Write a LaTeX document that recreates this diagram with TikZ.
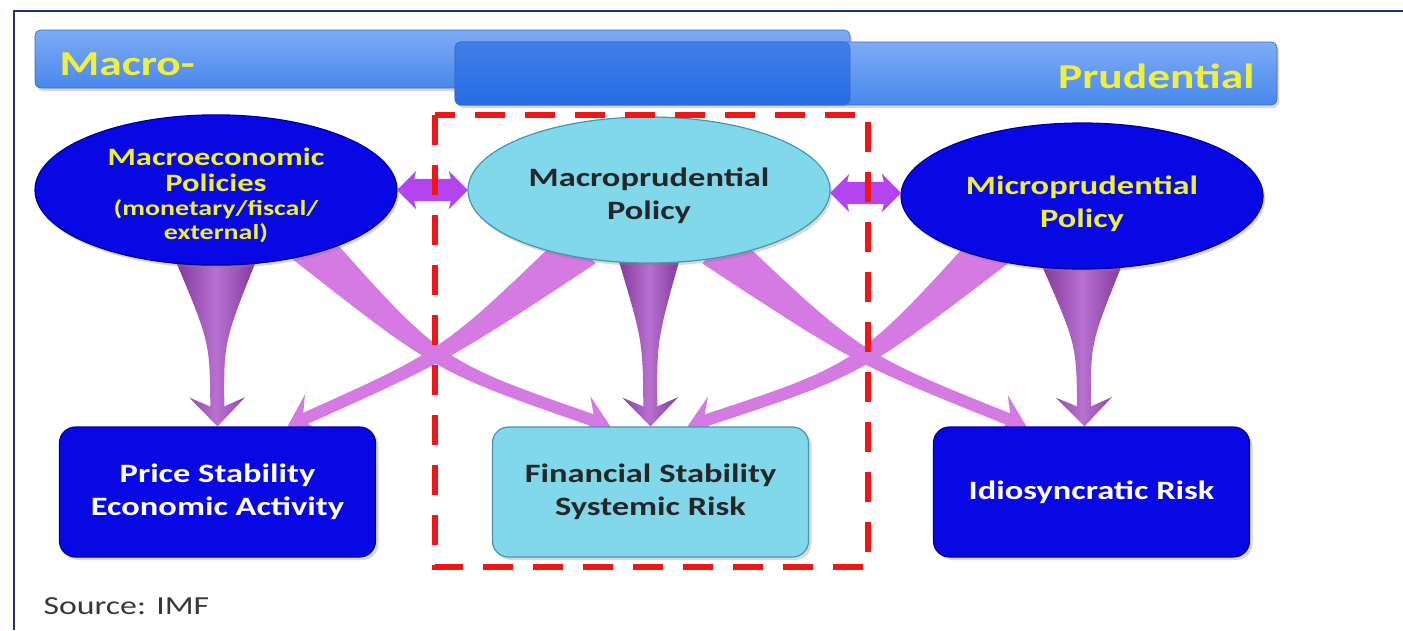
\documentclass[tikz,border=0pt]{standalone}
\usepackage{fontspec}
\setmainfont{Carlito}[FakeStretch=1.3]
\usetikzlibrary{calc,shapes.geometric,shapes.arrows,shadows}

\definecolor{barblue}{RGB}{72,136,236}
\definecolor{barlight}{RGB}{125,172,246}
\definecolor{bardark}{RGB}{38,108,228}
\definecolor{deepblue}{RGB}{8,8,228}
\definecolor{deepedge}{RGB}{0,0,150}
\definecolor{paleblue}{RGB}{128,216,234}
\definecolor{paleedge}{RGB}{70,150,175}
\definecolor{hiyellow}{RGB}{240,240,60}
\definecolor{darkviolet}{RGB}{160,66,192}
\definecolor{lightviolet}{RGB}{212,122,226}
\definecolor{linkviolet}{RGB}{180,68,240}
\definecolor{framered}{RGB}{240,22,22}
\definecolor{framenavy}{RGB}{32,52,112}

\pgfdeclarelayer{back}
\pgfsetlayers{back,main}

% tapered arrow: style, from, to, bend, top, neck, head
\newcommand{\funnel}[7]{%
  \coordinate (fM) at ($($(#2)!0.5!(#3)$)!#4!90:(#3)$);
  \coordinate (fN) at ($(#3)!20pt!(fM)$);
  \coordinate (fB) at ($(#3)!29pt!(fM)$);
  \path[#1] ($(#2)!#5!90:(fM)$) .. controls ($(fM)!#6!90:(#3)$) .. ($(fN)!#6!90:(#3)$)
    -- ($(fB)!#7!90:(#3)$) -- (#3) -- ($(fB)!#7!-90:(#3)$) -- ($(fN)!#6!-90:(#3)$)
    .. controls ($(fM)!#6!-90:(#3)$) .. ($(#2)!#5!-90:(fM)$) -- cycle;
}

\tikzset{
  bar/.style={rectangle, rounded corners=6pt, inner sep=0pt, draw=barblue!80!black, line width=0.6pt,
    top color=barlight, bottom color=barblue},
  bartext/.style={text=hiyellow, font=\fontsize{35}{40}\selectfont\bfseries},
  policy/.style={ellipse, minimum width=362pt, minimum height=146pt, inner sep=0pt, align=center,
    line width=1.2pt, drop shadow={opacity=0.3, shadow xshift=2pt, shadow yshift=-3pt},
    font=\fontsize{26.5}{33}\selectfont\bfseries},
  darkpolicy/.style={policy, fill=deepblue, draw=deepedge, text=hiyellow},
  palepolicy/.style={policy, fill=paleblue, draw=paleedge, text=black!85},
  target/.style={rectangle, rounded corners=16pt, minimum width=316pt, minimum height=130pt,
    inner sep=0pt, align=center, line width=1.2pt,
    drop shadow={opacity=0.3, shadow xshift=3pt, shadow yshift=-3pt},
    font=\fontsize{26.5}{33}\selectfont\bfseries},
  darktarget/.style={target, fill=deepblue, draw=deepedge, text=white},
  paletarget/.style={target, fill=paleblue, draw=paleedge, text=black!85},
  link/.style={double arrow, fill=linkviolet, minimum height=71pt, minimum width=38pt,
    double arrow head extend=8pt, double arrow head indent=2pt, inner xsep=0pt, inner ysep=11pt},
  darkfunnel/.style={left color=darkviolet!80!black, right color=darkviolet!80!black,
    middle color=darkviolet!75!white},
  lightfunnel/.style={fill=lightviolet},
  riskframe/.style={draw=framered, line width=6pt, dash pattern=on 30pt off 20pt},
}

\begin{document}
\begin{tikzpicture}[x=1pt, y=-1pt]
  \useasboundingbox (0,0) rectangle (1403,630);
  \draw[framenavy, line width=2pt] (1403,11) -- (14,11) -- (14,630);

  \node[bar, minimum width=815pt, minimum height=58pt,
    drop shadow={opacity=0.3, shadow xshift=2pt, shadow yshift=-3pt}] (macrobar) at (442.5,59) {};
  \node[bar, minimum width=822pt, minimum height=63pt,
    drop shadow={opacity=0.3, shadow xshift=2pt, shadow yshift=-3pt}] (prubar) at (866,73.5) {};
  \node[bar, top color=bardark!70!barlight, bottom color=bardark, minimum width=395pt,
    minimum height=63pt, anchor=west] (overlap) at (prubar.west) {};
  \node[bartext, anchor=base west] (macrolabel) at (56,75) {Macro-};
  \node[bartext, anchor=base east] (prulabel) at (1258,88) {Prudential};

  \node[darkpolicy, font=\fontsize{25}{26}\selectfont\bfseries] (macro) at (216,190)
    {\rule{0pt}{29pt}Macroeconomic\\Policies\\[-2pt]{\fontsize{21.5}{23}\selectfont (monetary/fiscal/}\\[-2pt]{\fontsize{21.5}{23}\selectfont external)}};
  \node[palepolicy] (mpp) at (649,190) {\rule{0pt}{30pt}Macroprudential\\Policy};
  \node[darkpolicy] (micro) at (1082,196) {\rule{0pt}{34pt}Microprudential\\Policy};

  \node[darktarget] (price) at (217.5,492) {Price Stability\\Economic Activity};
  \node[paletarget] (fin) at (650.5,492) {Financial Stability\\Systemic Risk};
  \node[darktarget] (idio) at (1091.5,492) {Idiosyncratic Risk};

  \coordinate (s1) at ($(macro.center)!0.88!(macro.-90)$);
  \coordinate (s2) at ($(mpp.center)!0.88!(mpp.-90)$);
  \coordinate (s3) at ($(micro.center)!0.88!(micro.-90)$);
  \coordinate (s4) at ($(macro.center)!0.85!(macro.-30)$);
  \coordinate (s5) at ($(mpp.center)!0.85!(mpp.-140)$);
  \coordinate (s6) at ($(mpp.center)!0.85!(mpp.-40)$);
  \coordinate (s7) at ($(micro.center)!0.85!(micro.-150)$);
  \coordinate (t3) at ($(idio.north)+(-7,0)$);
  \coordinate (t4) at ($(fin.north)+(-40,0)$);
  \coordinate (t5) at ($(price.north)+(70,0)$);
  \coordinate (t6) at ($(idio.north)+(-65,0)$);
  \coordinate (t7) at ($(fin.north)+(37,0)$);

  \begin{pgfonlayer}{back}
    \funnel{lightfunnel}{s4}{t4}{-38pt}{22pt}{6pt}{22pt}
    \funnel{lightfunnel}{s5}{t5}{22pt}{22pt}{6pt}{22pt}
    \funnel{lightfunnel}{s6}{t6}{-26pt}{22pt}{6pt}{22pt}
    \funnel{lightfunnel}{s7}{t7}{38pt}{22pt}{6pt}{22pt}
    \funnel{darkfunnel}{s1}{price.north}{0pt}{42pt}{7pt}{28pt}
    \funnel{darkfunnel}{s2}{fin.north}{0pt}{32pt}{7pt}{28pt}
    \funnel{darkfunnel}{s3}{t3}{0pt}{42pt}{7pt}{28pt}
  \end{pgfonlayer}

  \node[link] (linkleft) at ($(macro.east)!0.5!(mpp.west)$) {};
  \node[link] (linkright) at ($(mpp.east)!0.5!(micro.west)$) {};

  \draw[riskframe] (435,115) rectangle (868,567);

  \node[anchor=base west, font=\fontsize{26}{30}\selectfont, text=black!78] (source) at (40,614) {Source: IMF};
\end{tikzpicture}
\end{document}
